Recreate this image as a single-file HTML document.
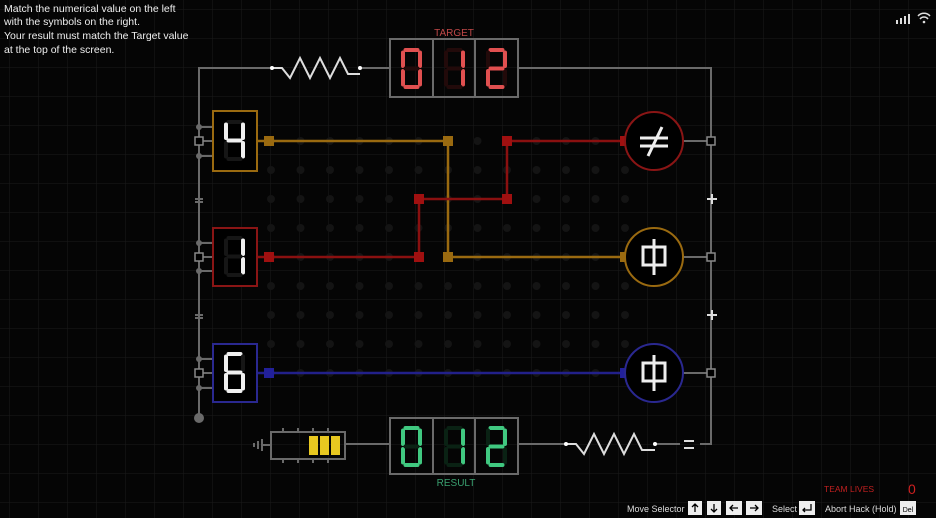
<!DOCTYPE html>
<html><head><meta charset="utf-8"><style>
html,body{margin:0;padding:0;background:#000;width:936px;height:518px;overflow:hidden}
svg{display:block}
.t{font-family:"Liberation Sans",sans-serif}
</style></head><body>
<svg id="s" width="936" height="518" viewBox="0 0 936 518" xmlns="http://www.w3.org/2000/svg">
<defs>
<pattern id="g" width="29" height="29" patternUnits="userSpaceOnUse" x="10" y="10">
<path d="M29 0V29M0 29H29" stroke="#1a1a1a" stroke-width="1" fill="none"/>
</pattern>
</defs>
<rect width="936" height="518" fill="#050505"/>
<rect width="936" height="518" fill="url(#g)"/>
<g id="dots"></g>
<g stroke="#6a6a6a" stroke-width="2" fill="none">
<path d="M199 418V68H272M360 68H390M518 68H711V444H700M680 444H655M566 444H518M390 444H345"/>
<path d="M199 127H213M199 156H213M199 141H213M199 243H213M199 271H213M199 257H213M199 359H213M199 388H213M199 373H213"/>
<path d="M683 141H711M683 257H711M683 373H711"/>
<path d="M195 199H203M195 202H203M195 315H203M195 318H203"/>
</g>
<g fill="#6a6a6a">
<circle cx="199" cy="127" r="3"/><circle cx="199" cy="156" r="3"/>
<circle cx="199" cy="243" r="3"/><circle cx="199" cy="271" r="3"/>
<circle cx="199" cy="359" r="3"/><circle cx="199" cy="388" r="3"/>
<circle cx="199" cy="418" r="5"/>
</g>
<g fill="#000" stroke="#888" stroke-width="1.5">
<rect x="195" y="137" width="8" height="8"/><rect x="195" y="253" width="8" height="8"/><rect x="195" y="369" width="8" height="8"/>
<rect x="707" y="137" width="8" height="8"/><rect x="707" y="253" width="8" height="8"/><rect x="707" y="369" width="8" height="8"/>
</g>
<g stroke="#ddd" stroke-width="2" fill="none">
<path d="M272 68H282L290 78L300 58L310 78L320 58L330 78L340 58L348 74H360"/>
<path d="M566 444H576L584 454L594 434L604 454L614 434L624 454L634 434L642 450H655"/>
</g>
<circle cx="272" cy="68" r="2" fill="#fff"/><circle cx="360" cy="68" r="2" fill="#fff"/>
<circle cx="566" cy="444" r="2" fill="#fff"/><circle cx="655" cy="444" r="2" fill="#fff"/>
<g stroke="#ddd" stroke-width="2"><path d="M684 441H694M684 448H694M707 199H717M712 194V204M707 315H717M712 310V320"/></g>
<g fill="none" stroke-width="2.5">
<path d="M257 141H448V257H625" stroke="#9a6a10"/>
<path d="M257 257H419V199H507V141H625" stroke="#8a1010"/>
<path d="M257 373H625" stroke="#22208a"/>
</g>
<g>
<rect x="264" y="136" width="10" height="10" fill="#9a6a10"/><rect x="443" y="136" width="10" height="10" fill="#9a6a10"/><rect x="443" y="252" width="10" height="10" fill="#9a6a10"/><rect x="620" y="252" width="10" height="10" fill="#9a6a10"/>
<rect x="264" y="252" width="10" height="10" fill="#a01010"/><rect x="414" y="252" width="10" height="10" fill="#a01010"/><rect x="414" y="194" width="10" height="10" fill="#a01010"/><rect x="502" y="194" width="10" height="10" fill="#a01010"/><rect x="502" y="136" width="10" height="10" fill="#a01010"/><rect x="620" y="136" width="10" height="10" fill="#a01010"/>
<rect x="264" y="368" width="10" height="10" fill="#22209a"/><rect x="620" y="368" width="10" height="10" fill="#22209a"/>
</g>
<g fill="#000" stroke-width="2">
<circle cx="654" cy="141" r="29" stroke="#8a1515"/>
<circle cx="654" cy="257" r="29" stroke="#9a6a10"/>
<circle cx="654" cy="373" r="29" stroke="#2a2890"/>
</g>
<g stroke="#eee" stroke-width="3" fill="none">
<path d="M640 138H668M640 146H668M648 156L662 127"/>
<path d="M643 247H665V265H643ZM654 239V275"/>
<path d="M643 363H665V381H643ZM654 355V391"/>
</g>
<g fill="#000" stroke-width="2">
<rect x="213" y="111" width="44" height="60" stroke="#9a6a10"/>
<rect x="213" y="228" width="44" height="58" stroke="#8a1515"/>
<rect x="213" y="344" width="44" height="58" stroke="#2a2890"/>
</g>
<g fill="none" stroke="#6a6a6a" stroke-width="2">
<rect x="390" y="39" width="128" height="58"/><path d="M433 39V97M475 39V97"/>
<rect x="390" y="418" width="128" height="56"/><path d="M433 418V474M475 418V474"/>
<rect x="271" y="432" width="74" height="27"/>
<path d="M283 428V432M298 428V432M313 428V432M328 428V432M283 459V463M298 459V463M313 459V463M328 459V463M262 445H271M262 439V451M258 441V449M254 443V447"/>
</g>
<g fill="#e8c820"><rect x="309" y="436" width="9" height="19"/><rect x="320" y="436" width="9" height="19"/><rect x="331" y="436" width="9" height="19"/></g>
<g id="dig"></g>
<g class="t">
<text x="4" y="12" font-size="10.5" fill="#eee">Match the numerical value on the left</text>
<text x="4" y="25" font-size="10.5" fill="#eee">with the symbols on the right.</text>
<text x="4" y="39" font-size="10.5" fill="#eee">Your result must match the Target value</text>
<text x="4" y="53" font-size="10.5" fill="#eee">at the top of the screen.</text>
<text x="454" y="36" font-size="10" fill="#c04848" text-anchor="middle">TARGET</text>
<text x="456" y="486" font-size="10" fill="#3aa070" text-anchor="middle">RESULT</text>
<text x="824" y="492" font-size="8.5" fill="#c02020">TEAM LIVES</text>
<text x="908" y="494" font-size="14" fill="#d02020">0</text>
<text x="627" y="512" font-size="9" fill="#ddd">Move Selector</text>
<text x="772" y="512" font-size="9" fill="#ddd">Select</text>
<text x="825" y="512" font-size="9" fill="#ddd">Abort Hack (Hold)</text>
</g>
<g fill="#eee"><rect x="688" y="501" width="14" height="14"/><rect x="707" y="501" width="14" height="14"/><rect x="726" y="501" width="16" height="14"/><rect x="746" y="501" width="16" height="14"/><rect x="799" y="501" width="16" height="14"/><rect x="900" y="501" width="16" height="14"/></g>
<g stroke="#000" stroke-width="1.3" fill="none"><path d="M695 512V504M692 507L695 504L698 507M714 504V512M711 509L714 512L717 509M738 508H730M733 505L730 508L733 511M750 508H758M755 505L758 508L755 511M811 504V510H803M805 508L803 510L805 512"/></g>
<text x="908" y="512" font-size="7" fill="#000" text-anchor="middle" class="t">Del</text>
<g fill="#ddd"><rect x="896" y="20" width="2" height="4"/><rect x="900" y="18" width="2" height="6"/><rect x="904" y="16" width="2" height="8"/><rect x="908" y="14" width="2" height="10"/></g>
<g fill="none" stroke="#ddd" stroke-width="1.5"><path d="M918 16A8 8 0 0 1 930 16M920 19A5 5 0 0 1 928 19"/></g><circle cx="924" cy="22" r="1.3" fill="#ddd"/>
</svg>
<script>
var NS="http://www.w3.org/2000/svg";
var dots=document.getElementById('dots');
for(var r=0;r<9;r++)for(var c=0;c<13;c++){var x=271+c*29.5,y=141+r*29;if(x>630)continue;var e=document.createElementNS(NS,'circle');e.setAttribute('cx',x);e.setAttribute('cy',y);e.setAttribute('r',4);e.setAttribute('fill','#141414');dots.appendChild(e);}
var SEG={0:'abcdef',1:'bc',2:'abged',4:'fgbc',6:'afedcg'};
var dg=document.getElementById('dig');
function digit(x,y,w,h,n,on,off){var m=h/2;var s={a:[x,y,x+w,y],b:[x+w,y,x+w,y+m],c:[x+w,y+m,x+w,y+h],d:[x,y+h,x+w,y+h],e:[x,y+m,x,y+h],f:[x,y,x,y+m],g:[x,y+m,x+w,y+m]};
for(var k in s){var l=document.createElementNS(NS,'line');var p=s[k];var g=2.5;var dx=p[2]>p[0]?g:0,dy=p[3]>p[1]?g:0;l.setAttribute('x1',p[0]+dx);l.setAttribute('y1',p[1]+dy);l.setAttribute('x2',p[2]-dx);l.setAttribute('y2',p[3]-dy);l.setAttribute('stroke',SEG[n].indexOf(k)>=0?on:off);l.setAttribute('stroke-width',4);l.setAttribute('stroke-linecap','round');dg.appendChild(l);}}
var R='#e05050',Rd='#220a0a',G='#40c880',Gd='#0a2214',W='#f0f0f0',Wd='#161616';
digit(403,50,17,37,0,R,Rd);digit(446,50,17,37,1,R,Rd);digit(488,50,17,37,2,R,Rd);
digit(403,428,17,37,0,G,Gd);digit(446,428,17,37,1,G,Gd);digit(488,428,17,37,2,G,Gd);
digit(226,122,17,37,4,W,Wd);digit(226,238,17,37,1,W,Wd);digit(226,354,17,37,6,W,Wd);
</script>
</body></html>
